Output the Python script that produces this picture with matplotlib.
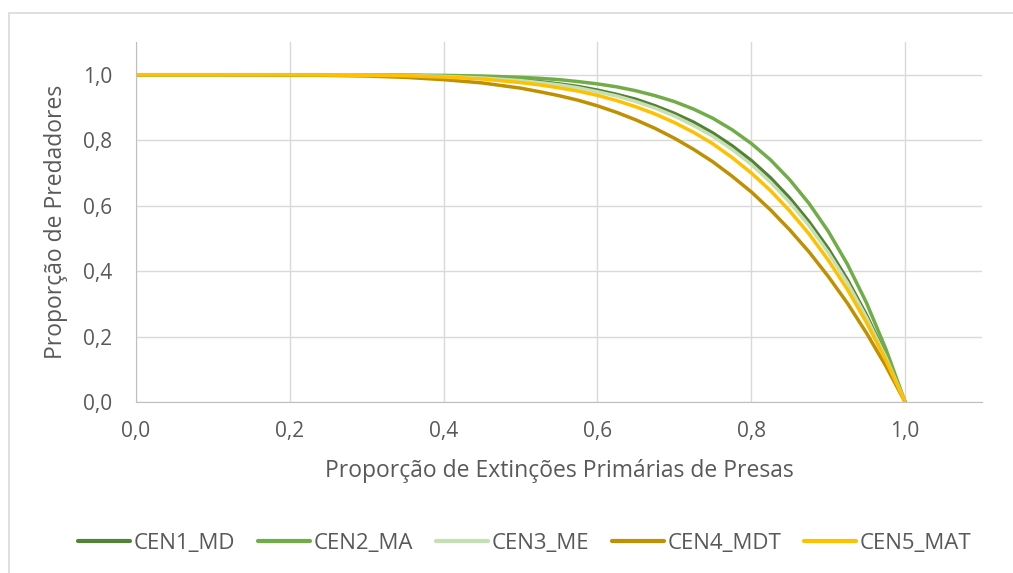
import matplotlib
matplotlib.use("Agg")
import matplotlib.pyplot as plt
from matplotlib.patches import Rectangle
from matplotlib.ticker import FuncFormatter, MultipleLocator

plt.rcParams['font.family'] = ['Open Sans', 'DejaVu Sans']

x = [0.0, 0.1, 0.2, 0.25, 0.3, 0.35, 0.4, 0.45, 0.5, 0.525, 0.55, 0.575, 0.6,
     0.625, 0.65, 0.675, 0.7, 0.725, 0.75, 0.775, 0.8, 0.825, 0.85, 0.875,
     0.9, 0.925, 0.95, 0.975, 1.0]

cen1_md = [1.000, 1.000, 1.000, 1.000, 0.999, 0.998, 0.996, 0.992, 0.984, 0.979,
           0.972, 0.964, 0.953, 0.940, 0.925, 0.905, 0.882, 0.855, 0.822, 0.783,
           0.738, 0.685, 0.623, 0.551, 0.469, 0.374, 0.265, 0.141, 0.0]
cen2_ma = [1.000, 1.000, 1.000, 1.000, 1.000, 0.999, 0.998, 0.996, 0.992, 0.989,
           0.985, 0.979, 0.972, 0.963, 0.951, 0.936, 0.918, 0.895, 0.867, 0.832,
           0.790, 0.740, 0.679, 0.607, 0.522, 0.421, 0.302, 0.162, 0.0]
cen3_me = [1.000, 1.000, 1.000, 1.000, 0.999, 0.998, 0.995, 0.990, 0.982, 0.976,
           0.969, 0.960, 0.948, 0.935, 0.918, 0.898, 0.874, 0.845, 0.812, 0.772,
           0.726, 0.672, 0.610, 0.539, 0.457, 0.364, 0.257, 0.136, 0.0]
cen4_mdt = [1.000, 1.000, 0.999, 0.998, 0.996, 0.992, 0.985, 0.975, 0.959, 0.948,
            0.936, 0.922, 0.905, 0.885, 0.862, 0.836, 0.806, 0.772, 0.734, 0.690,
            0.642, 0.587, 0.526, 0.459, 0.384, 0.302, 0.210, 0.110, 0.0]
cen5_mat = [1.000, 1.000, 1.000, 0.999, 0.998, 0.997, 0.993, 0.987, 0.976, 0.969,
            0.960, 0.950, 0.937, 0.921, 0.902, 0.880, 0.854, 0.824, 0.789, 0.747,
            0.700, 0.646, 0.584, 0.514, 0.434, 0.344, 0.242, 0.128, 0.0]

series = [
    ("CEN1_MD", cen1_md, "#548235"),
    ("CEN2_MA", cen2_ma, "#70AD47"),
    ("CEN3_ME", cen3_me, "#C5E0B4"),
    ("CEN4_MDT", cen4_mdt, "#BF9000"),
    ("CEN5_MAT", cen5_mat, "#FFC000"),
]

W, H = 1013, 573
fig = plt.figure(figsize=(W / 100, H / 100), dpi=100)
fig.patch.set_facecolor("white")

# outer chart border (only left/top visible)
fig.patches.append(Rectangle((9 / W, -0.05), 1.1, 1 - 13 / H + 0.05,
                             transform=fig.transFigure, fill=False,
                             edgecolor="#D9D9D9", linewidth=1.2))

ax = fig.add_axes([136 / W, 1 - 402 / H, (982 - 136) / W, (402 - 42) / H])

for name, vals, col in series:
    ax.plot(x, vals, color=col, linewidth=2.5, label=name,
            solid_capstyle="round", solid_joinstyle="round")

ax.set_xlim(0, 1.1)
ax.set_ylim(0, 1.1)
ax.xaxis.set_major_locator(MultipleLocator(0.2))
ax.yaxis.set_major_locator(MultipleLocator(0.2))
fmt = FuncFormatter(lambda v, p: f"{v:.1f}".replace(".", ",") if v <= 1.0001 else "")
ax.xaxis.set_major_formatter(fmt)
ax.yaxis.set_major_formatter(fmt)

ax.grid(True, color="#D9D9D9", linewidth=1.0)
ax.set_axisbelow(True)
for s in ["top", "right"]:
    ax.spines[s].set_visible(False)
ax.spines["left"].set_color("#BFBFBF")
ax.spines["bottom"].set_color("#BFBFBF")
ax.tick_params(length=0, labelsize=15, labelcolor="#595959")
ax.tick_params(axis="x", pad=14)
ax.tick_params(axis="y", pad=17)

ax.set_xlabel("Proporção de Extinções Primárias de Presas", fontsize=16.5,
              color="#595959", labelpad=12)
ax.set_ylabel("Proporção de Predadores", fontsize=16.5, color="#595959",
              labelpad=11)

leg = fig.legend(loc="center", bbox_to_anchor=(0.518, 1 - 543 / H), ncol=5,
                 frameon=False, fontsize=16, handlelength=2.35,
                 columnspacing=1.0, handletextpad=0.18)
for t in leg.get_texts():
    t.set_color("#595959")
for l in leg.get_lines():
    l.set_linewidth(3)

fig.savefig("out.png", dpi=100, facecolor="white")
